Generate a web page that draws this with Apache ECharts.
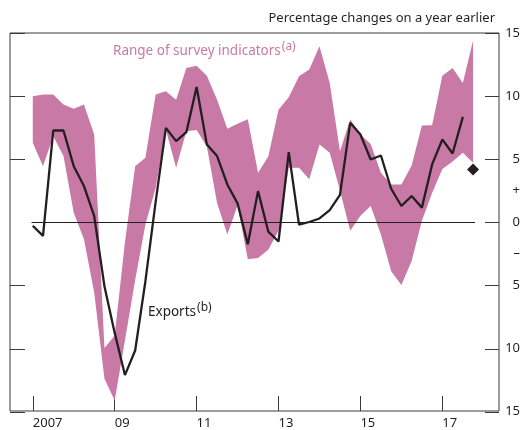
<!DOCTYPE html>
<html>
<head>
<meta charset="utf-8">
<script src="https://cdn.jsdelivr.net/npm/echarts@6/dist/echarts.min.js"></script>
<style>
  html, body { margin: 0; padding: 0; background: #fff; }
  #main { width: 525px; height: 430px; }
</style>
</head>
<body>
<div id="main"></div>
<script>
// quarterly, 2007 Q1 .. 2017 Q4
const startYear = 2007;
const surveyHigh = [
  9.98, 10.11, 10.11, 9.32, 8.98, 9.32, 6.94, -10.0, -9.0, -1.6,
  4.43, 5.1, 10.11, 10.37, 9.71, 12.22, 12.41, 11.6, 9.71, 7.4,
  7.8, 8.15, 3.9, 5.2, 8.9, 9.9, 11.56, 12.1, 13.94, 11.04,
  5.62, 8.13, 6.94, 6.2, 3.91, 2.98, 2.98, 4.49, 7.66, 7.68,
  11.6, 12.22, 11.04, 14.4
];
const surveyLow = [
  6.29, 4.43, 6.81, 5.23, 0.74, -1.37, -5.59, -12.45, -14.17, -9.4,
  -4.6, -0.2, 2.7, 7.3, 4.31, 7.2, 7.3, 6.0, 1.5, -1.0,
  1.3, -2.95, -2.85, -2.2, -0.7, 4.3, 4.3, 3.4, 6.15, 5.5,
  2.5, -0.7, 0.5, 1.27, -1.0, -3.9, -5.0, -3.1, 0.1, 2.3,
  4.2, 4.8, 5.5, 4.7
];
const exportsGrowth = [
  -0.3, -1.1, 7.26, 7.26, 4.43, 2.85, 0.47, -5.1, -8.8, -12.15,
  -10.2, -4.7, 1.6, 7.47, 6.42, 7.13, 10.72, 6.15, 5.23, 2.98,
  1.48, -1.77, 2.45, -0.76, -1.55, 5.54, -0.2, 0.0, 0.28, 0.95,
  2.15, 7.87, 6.94, 4.96, 5.28, 2.64, 1.27, 2.06, 1.14, 4.57,
  6.55, 5.44, 8.34
];
const exportsLatest = 4.17; // 2017 Q4 diamond
const xTickValues = [2007, 2009, 2011, 2013, 2015, 2017];
const xTickLabels = ['2007', '09', '11', '13', '15', '17'];
const yLabelValues = [-15, -10, -5, -2.5, 0, 2.5, 5, 10, 15];
const yLabelTexts = ['15', '10', '5', '\u2013', '0', '+', '5', '10', '15'];
const yTickSlots = ['-15', '-10', '-5', '0', '5', '10', '15'];

const quarterX = surveyHigh.map((v, i) => startYear + i / 4);
const bandData = surveyHigh.map((v, i) => [quarterX[i], v, surveyLow[i]]);
const exportsData = exportsGrowth.map((v, i) => [quarterX[i], v]);
const lastX = quarterX[quarterX.length - 1];

const pink = '#c879a6';
const ink = '#231f20';
const axisInk = '#3a3a3a';
const font = 'Noto Sans';

// band polygon: upper edge left to right, lower edge back
function renderBand(params, api) {
  if (params.dataIndex !== 0) return;
  const pts = [];
  for (let i = 0; i < quarterX.length; i++) pts.push(api.coord([quarterX[i], surveyHigh[i]]));
  for (let i = quarterX.length - 1; i >= 0; i--) pts.push(api.coord([quarterX[i], surveyLow[i]]));
  return {
    type: 'polygon',
    shape: { points: pts },
    style: { fill: pink }
  };
}

// thin strips inside the frame whose split lines act as the y tick marks
function tickStrip(gridIndex, skipZero) {
  return {
    gridIndex: gridIndex,
    type: 'category',
    data: yTickSlots,
    boundaryGap: false,
    axisLine: { show: false },
    axisTick: { show: false },
    axisLabel: { show: false },
    splitLine: {
      show: true,
      interval: (idx, val) => !(skipZero && val === '0'),
      lineStyle: { color: axisInk, width: 1 }
    }
  };
}
function hiddenX(gridIndex) {
  return { gridIndex: gridIndex, type: 'value', show: false };
}

const chart = echarts.init(document.getElementById('main'));
chart.setOption({
  animation: false,
  textStyle: { fontFamily: font },
  grid: [
    {
      left: 10, right: 26, top: 33, bottom: 18,
      show: true, borderColor: axisInk, borderWidth: 1
    },
    { left: 485, right: 26, top: 33, bottom: 18 },
    { left: 10, width: 15, top: 33, bottom: 18 }
  ],
  xAxis: [
    {
      type: 'value',
      min: 2006.444,
      max: 2018.383,
      axisLine: { show: false, onZero: false },
      splitLine: { show: false },
      axisTick: {
        show: true, inside: true, length: 15, customValues: xTickValues,
        lineStyle: { color: axisInk, width: 1 }
      },
      axisLabel: {
        customValues: xTickValues,
        formatter: v => xTickLabels[xTickValues.indexOf(v)],
        align: 'left', margin: 6,
        color: ink, fontSize: 13, fontFamily: font
      }
    },
    hiddenX(1),
    hiddenX(2)
  ],
  yAxis: [
    {
      type: 'value', position: 'right',
      min: -15, max: 15,
      axisLine: { show: false, onZero: false },
      splitLine: { show: false },
      axisTick: { show: false },
      axisLabel: {
        customValues: yLabelValues,
        formatter: v => yLabelTexts[yLabelValues.indexOf(v)],
        align: 'right', margin: 21,
        color: ink, fontSize: 13, fontFamily: font
      }
    },
    tickStrip(1, false),
    tickStrip(2, true)
  ],
  series: [
    {
      name: 'Range of survey indicators',
      type: 'custom',
      renderItem: renderBand,
      data: bandData,
      encode: { x: 0, y: [1, 2] },
      silent: true,
      z: 1
    },
    {
      name: 'Exports',
      type: 'line',
      data: exportsData,
      symbol: 'none',
      z: 5,
      lineStyle: { color: ink, width: 2.3 },
      markLine: {
        silent: true,
        symbol: 'none',
        label: { show: false },
        lineStyle: { color: ink, width: 1, type: 'solid' },
        z: 3,
        data: [[{ coord: [quarterX[0] - 0.03, 0] }, { coord: [lastX + 0.05, 0] }]]
      }
    },
    {
      name: 'Exports latest',
      type: 'scatter',
      data: [[lastX, exportsLatest]],
      symbol: 'diamond',
      symbolSize: [12, 12],
      itemStyle: { color: ink, opacity: 1 },
      z: 6
    }
  ],
  graphic: [
    {
      type: 'text', right: 30, top: 12,
      style: { text: 'Percentage changes on a year earlier', fill: ink, font: '13px "Noto Sans"' }
    },
    {
      type: 'text', left: 113, top: 41,
      style: {
        text: '{m|Range of survey indicators}{s|(a)}',
        rich: {
          m: { fill: pink, font: '13.5px "Noto Sans"', verticalAlign: 'bottom' },
          s: { fill: pink, font: '12px "Noto Sans"', verticalAlign: 'top', padding: [0, 0, 5, 1] }
        }
      }
    },
    {
      type: 'text', left: 148, top: 302,
      style: {
        text: '{m|Exports}{s|(b)}',
        rich: {
          m: { fill: ink, font: '13.5px "Noto Sans"', verticalAlign: 'bottom' },
          s: { fill: ink, font: '12px "Noto Sans"', verticalAlign: 'top', padding: [0, 0, 5, 1] }
        }
      }
    }
  ]
});
</script>
</body>
</html>
